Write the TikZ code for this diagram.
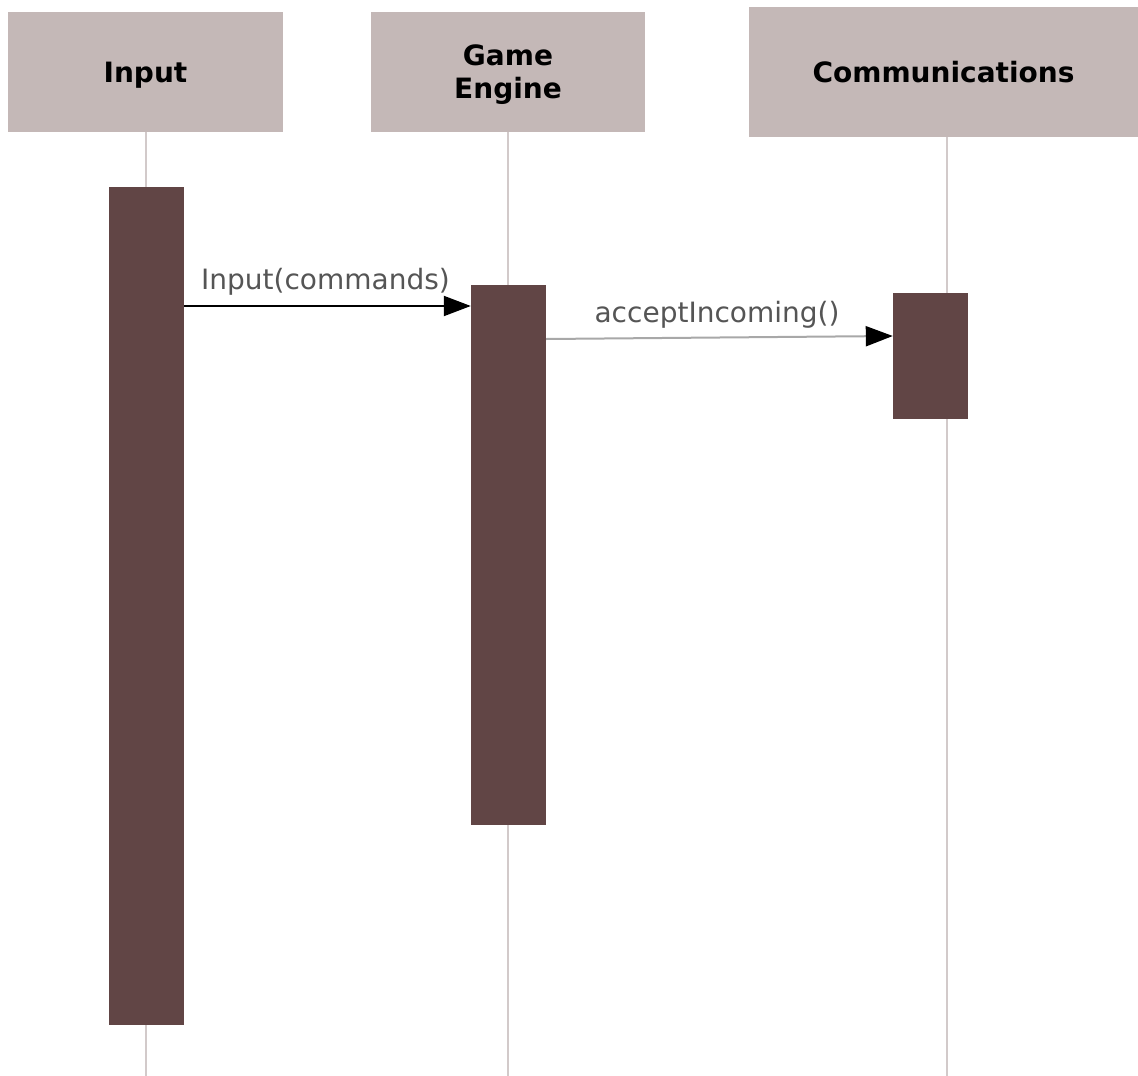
\documentclass[tikz,border=0pt]{standalone}
\usepackage{fontspec}
\setmainfont{DejaVu Sans}
\usetikzlibrary{arrows.meta}
\definecolor{hdrfill}{HTML}{C4B8B7}
\definecolor{actfill}{HTML}{614545}
\definecolor{lifeclr}{HTML}{D2CACA}
\definecolor{lblclr}{HTML}{555555}
\definecolor{msg2clr}{HTML}{A8A8A8}
\begin{document}
\begin{tikzpicture}[x=1pt,y=-1pt,
  header/.style={fill=hdrfill, draw=none, inner sep=0pt, align=center,
    font=\bfseries\fontsize{28}{33}\selectfont, text=black},
  actbar/.style={fill=actfill, draw=none, inner sep=0pt, minimum width=75pt},
  lifeline/.style={draw=lifeclr, line width=1.5pt},
  msgarrow/.style={line width=2pt, -{Triangle[length=27pt,width=20pt]}},
  msglabel/.style={font=\fontsize{28}{32}\selectfont, text=lblclr, anchor=base, inner sep=0pt}
]
\useasboundingbox (0,0) rectangle (1138,1076);
% headers
\node[header, minimum width=275pt, minimum height=120pt, text height=20pt, text depth=0pt] (hin) at (145.5,72) {Input};
\node[header, minimum width=274pt, minimum height=120pt, text height=52pt, text depth=0pt] (hge) at (508,72) {Game\\Engine};
\node[header, minimum width=389pt, minimum height=130pt, text height=20pt, text depth=0pt] (hco) at (943.5,72) {Communications};
% lifeline ends
\coordinate (ein) at (146,1076);
\coordinate (ege) at (508,1076);
\coordinate (eco) at (947,1076);
\draw[lifeline] (hin.south -| ein) -- (ein);
\draw[lifeline] (hge.south -| ege) -- (ege);
\draw[lifeline] (hco.south -| eco) -- (eco);
% activation bars
\node[actbar, minimum height=838pt] (ain) at (146.5,606) {};
\node[actbar, minimum height=540pt] (age) at (508.5,555) {};
\node[actbar, minimum height=126pt] (aco) at (930.5,356) {};
% messages
\coordinate (m1) at (0,306);
\coordinate (m2a) at (0,339);
\coordinate (m2b) at (0,336);
\draw[msgarrow] (ain.east |- m1) -- (age.west |- m1);
\draw[msgarrow, draw=msg2clr, -{Triangle[length=27pt,width=20pt,color=black]}] (age.east |- m2a) -- (aco.west |- m2b);
\node[msglabel] (l1) at (325.5,289) {Input(commands)};
\node[msglabel] (l2) at (717,322) {acceptIncoming()};
\end{tikzpicture}
\end{document}
